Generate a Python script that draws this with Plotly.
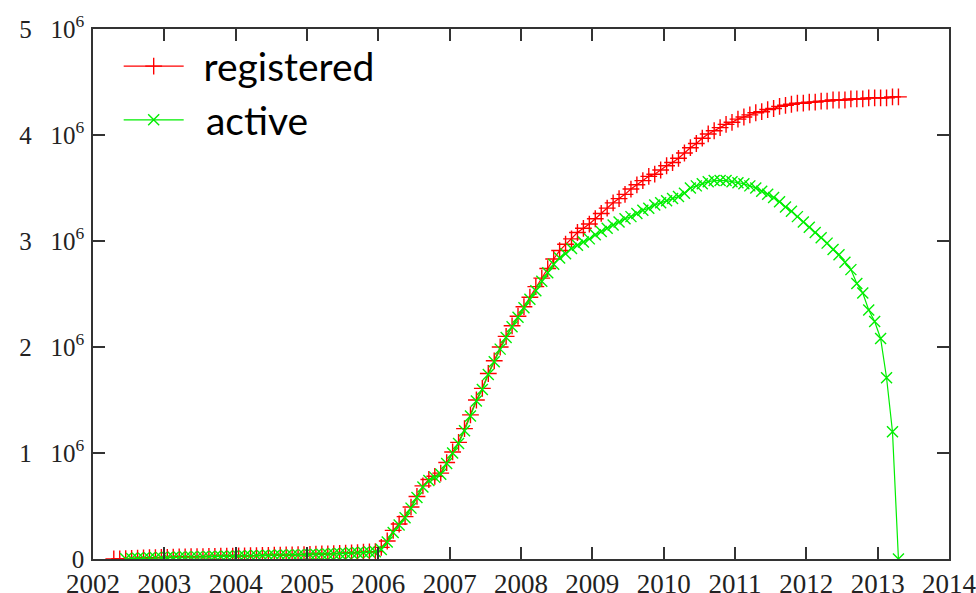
import plotly.graph_objects as go

# Monthly user counts (millions), mid-month time stamps
REG_START = (2002, 4)   # April 2002
ACT_START = (2002, 6)   # June 2002

registered = [
    # 2002 (Apr-Dec)
    0.000, 0.002, 0.004, 0.006, 0.008, 0.010, 0.012, 0.013, 0.015,
    # 2003
    0.016, 0.018, 0.019, 0.020, 0.021, 0.022, 0.023, 0.024, 0.025, 0.026, 0.027, 0.028,
    # 2004
    0.029, 0.030, 0.031, 0.032, 0.033, 0.034, 0.036, 0.037, 0.038, 0.039, 0.040, 0.041,
    # 2005
    0.043, 0.045, 0.047, 0.049, 0.051, 0.053, 0.055, 0.058, 0.061, 0.064, 0.067, 0.070,
    # 2006
    0.11, 0.17, 0.27, 0.33, 0.40, 0.49, 0.59, 0.69, 0.75, 0.78, 0.81, 0.91,
    # 2007
    1.01, 1.10, 1.23, 1.36, 1.50, 1.61, 1.75, 1.87, 2.00, 2.10, 2.20, 2.29,
    # 2008
    2.38, 2.47, 2.57, 2.65, 2.74, 2.83, 2.91, 2.97, 3.02, 3.08, 3.12, 3.16,
    # 2009
    3.21, 3.26, 3.31, 3.36, 3.40, 3.44, 3.49, 3.53, 3.57, 3.61, 3.63, 3.67,
    # 2010
    3.71, 3.74, 3.78, 3.83, 3.88, 3.92, 3.97, 4.01, 4.04, 4.07, 4.10, 4.12,
    # 2011
    4.15, 4.17, 4.19, 4.21, 4.22, 4.24, 4.25, 4.27, 4.28, 4.29, 4.30, 4.30,
    # 2012
    4.31, 4.31, 4.32, 4.32, 4.33, 4.33, 4.33, 4.34, 4.34, 4.34, 4.35, 4.35,
    # 2013 (Jan-Apr)
    4.35, 4.35, 4.36, 4.36,
]

active = [
    # 2002 (Jun-Dec)
    0.002, 0.004, 0.006, 0.008, 0.010, 0.011, 0.013,
    # 2003
    0.014, 0.016, 0.017, 0.018, 0.019, 0.020, 0.021, 0.022, 0.023, 0.024, 0.025, 0.026,
    # 2004
    0.027, 0.028, 0.029, 0.030, 0.031, 0.032, 0.034, 0.035, 0.036, 0.037, 0.038, 0.039,
    # 2005
    0.041, 0.043, 0.045, 0.047, 0.049, 0.051, 0.053, 0.056, 0.059, 0.062, 0.065, 0.068,
    # 2006
    0.09, 0.16, 0.25, 0.32, 0.39, 0.48, 0.58, 0.68, 0.74, 0.77, 0.80, 0.90,
    # 2007
    1.00, 1.09, 1.21, 1.35, 1.49, 1.60, 1.74, 1.86, 1.98, 2.09, 2.19, 2.28,
    # 2008
    2.37, 2.45, 2.53, 2.62, 2.70, 2.78, 2.84, 2.88, 2.93, 2.96, 2.99, 3.02,
    # 2009
    3.06, 3.09, 3.12, 3.15, 3.18, 3.21, 3.23, 3.26, 3.29, 3.31, 3.34, 3.36,
    # 2010
    3.38, 3.40, 3.42, 3.45, 3.50, 3.52, 3.54, 3.56, 3.57, 3.57, 3.57, 3.56,
    # 2011
    3.55, 3.54, 3.52, 3.50, 3.47, 3.44, 3.41, 3.37, 3.32, 3.28, 3.23, 3.18,
    # 2012
    3.13, 3.08, 3.03, 2.98, 2.92, 2.87, 2.80, 2.73, 2.60, 2.51, 2.35, 2.24,
    # 2013 (Jan-Apr)
    2.08, 1.71, 1.20, 0.0,
]

year_ticks = list(range(2002, 2015))
y_tick_vals = [0, 1e6, 2e6, 3e6, 4e6, 5e6]
y_tick_text = ["0"] + [f"{k}\u00a0\u00a0\u00a010<sup>6</sup>" for k in range(1, 6)]

SERIF = "Liberation Serif"


def month_axis(start, n):
    y0, m0 = start
    return [y0 + (m0 - 1 + i + 0.5) / 12.0 for i in range(n)]


x_reg = month_axis(REG_START, len(registered))
x_act = month_axis(ACT_START, len(active))

fig = go.Figure()
fig.add_trace(go.Scatter(
    x=x_reg, y=[v * 1e6 for v in registered], name="\u00a0\u200a\u200aregistered",
    mode="lines+markers", legendgroup="reg",
    line=dict(color="#ff0000", width=1.2),
    marker=dict(symbol="cross-thin", size=12, color="#ff0000",
                line=dict(width=1.4, color="#ff0000")),
))
fig.add_trace(go.Scatter(
    x=x_act, y=[v * 1e6 for v in active], name="\u00a0\u2009\u200aactive",
    mode="lines+markers", legendgroup="act",
    line=dict(color="#00ee00", width=1.2),
    marker=dict(symbol="x-thin", size=11, color="#00ee00",
                line=dict(width=1.4, color="#00ee00")),
))

axis_common = dict(
    showline=True, linecolor="#333333", linewidth=1.5, mirror="allticks",
    ticks="inside", ticklen=12, tickwidth=1.5, tickcolor="#333333",
    showgrid=False, zeroline=False, automargin=False,
)

fig.update_layout(
    width=976, height=593,
    margin=dict(l=93, r=27, t=29, b=34),
    paper_bgcolor="white", plot_bgcolor="white",
    font=dict(family=SERIF),
    showlegend=True,
    legend=dict(
        x=0.03, y=0.99, xanchor="left", yanchor="top",
        bgcolor="rgba(0,0,0,0)", borderwidth=0,
        font=dict(family="Lato", size=39, color="#000000"),
        tracegroupgap=0, itemwidth=60,
    ),
    xaxis=dict(
        range=[2002, 2014.0005], tickmode="array", tickvals=year_ticks,
        ticktext=[str(y) for y in year_ticks],
        tickfont=dict(family=SERIF, size=27, color="#222222"),
        ticklabeloverflow="allow",
        **axis_common,
    ),
    yaxis=dict(
        range=[0, 5e6], tickmode="array", tickvals=y_tick_vals,
        ticktext=y_tick_text,
        tickfont=dict(family=SERIF, size=25, color="#222222"),
        ticklabelstandoff=2,
        **axis_common,
    ),
)

fig.write_html("out.html")
